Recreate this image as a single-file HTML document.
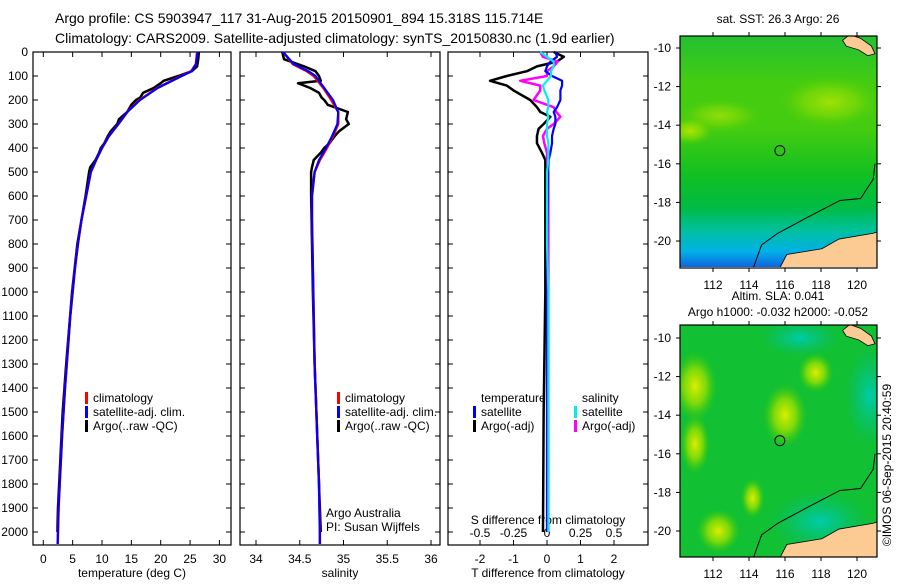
<!DOCTYPE html>
<html><head><meta charset="utf-8"><style>
body{margin:0;background:#fff;width:900px;height:580px;overflow:hidden}
svg{font-family:"Liberation Sans",sans-serif;}
</style></head><body>
<svg id="c" width="900" height="580" viewBox="0 0 900 580">
<defs>
<linearGradient id="sstg" x1="0" y1="0" x2="0" y2="1">
<stop offset="0" stop-color="#22c033"/><stop offset="0.2" stop-color="#44cc11"/><stop offset="0.4" stop-color="#44cc11"/><stop offset="0.6" stop-color="#11c022"/><stop offset="0.74" stop-color="#00bb44"/><stop offset="0.84" stop-color="#00c0a0"/><stop offset="0.93" stop-color="#00b0e8"/><stop offset="1" stop-color="#1060e0"/>
</linearGradient>
<radialGradient id="yb"><stop offset="0" stop-color="#ddee00"/><stop offset="0.5" stop-color="#99e000" stop-opacity="0.8"/><stop offset="1" stop-color="#44cc00" stop-opacity="0"/></radialGradient>
<radialGradient id="cb"><stop offset="0" stop-color="#00ccaa"/><stop offset="1" stop-color="#00c080" stop-opacity="0"/></radialGradient>
<clipPath id="m1c"><rect x="680" y="36" width="197" height="231"/></clipPath>
<clipPath id="m2c"><rect x="680" y="325" width="197" height="232"/></clipPath>
</defs>
<text x="55" y="23" font-size="14">Argo profile: CS 5903947_117 31-Aug-2015 20150901_894 15.318S 115.714E</text>
<text x="55" y="43" font-size="14">Climatology: CARS2009. Satellite-adjusted climatology: synTS_20150830.nc (1.9d earlier)</text>
<g id="g"></g>
<text x="888" y="465" font-size="12" transform="rotate(-90 888 465)" text-anchor="middle" dominant-baseline="middle">©IMOS 06-Sep-2015 20:40:59</text>
</svg>
<script>
const depths=[0,50,80,100,150,200,250,300,350,400,450,500,600,700,800,900,1000,1100,1200,1300,1400,1500,1600,1700,1800,1900,2000,2050];
const tempClim=[26.2,26.0,25.2,23.5,19.4,16.4,14.3,12.8,11.2,10.0,9.0,8.1,7.3,6.5,5.9,5.4,5.0,4.6,4.3,4.0,3.7,3.45,3.2,3.0,2.8,2.6,2.5,2.45];
const tempSat=[26.3,26.0,25.3,23.6,19.5,16.5,14.3,12.8,11.2,10.0,9.0,8.1,7.3,6.5,5.9,5.4,5.0,4.6,4.3,4.0,3.7,3.45,3.2,3.0,2.8,2.6,2.5,2.45];
const argoDepths=[0,30,60,80,100,120,130,150,170,190,200,220,250,280,300,330,350,380,400,420,450,480,500,600,800,1000,1300,1500,1600,1700,1800,1900,2000];
const tempArgo=[26.5,26.4,26.2,25.3,23.0,20.5,20.0,18.8,17.0,16.5,15.8,15.0,14.3,12.9,12.6,11.5,11.0,10.4,9.8,9.5,8.9,8.0,7.8,7.2,5.8,4.9,3.9,3.3,3.1,2.9,2.7,2.5,2.4];
const salArgo=[34.3,34.32,34.55,34.68,34.72,34.74,34.48,34.62,34.72,34.75,34.78,34.82,35.05,35.03,35.06,34.95,34.9,34.84,34.78,34.74,34.66,34.64,34.63,34.63,34.64,34.65,34.67,34.69,34.7,34.71,34.72,34.73,34.74];
const salClim=[34.31,34.42,34.58,34.66,34.77,34.86,34.94,34.94,34.88,34.81,34.73,34.67,34.64,34.64,34.645,34.65,34.655,34.66,34.665,34.67,34.68,34.69,34.7,34.71,34.72,34.725,34.73,34.73];
const salSat=[34.31,34.43,34.6,34.68,34.78,34.88,34.94,34.93,34.87,34.8,34.72,34.67,34.64,34.64,34.645,34.65,34.655,34.66,34.665,34.67,34.68,34.69,34.7,34.71,34.72,34.725,34.73,34.73];
const diffDepths=[0,20,40,60,80,100,120,140,160,200,230,250,270,300,320,350,380,420,450,500,600,800,1000,1500,2000];
const dTsat=[0.25,0.3,0.1,0.0,-0.05,0.15,0.45,0.45,0.4,0.4,0.3,0.2,0.25,0.25,0.2,0.15,0.15,0.1,0.05,0.03,0.02,0.0,0.0,0.0,0.0];
const dTargo=[0.2,0.5,0.3,-0.3,-0.6,-1.2,-1.7,-1.2,-1.0,-0.5,-0.3,-0.2,0.1,-0.1,-0.25,-0.3,-0.3,-0.15,-0.05,-0.05,-0.05,-0.05,-0.05,-0.1,-0.12];
const dSsat=[-0.05,0.0,0.05,0.05,0.03,0.03,0.0,-0.03,-0.02,0.01,0.01,0.0,0.01,0.0,0.0,0.0,0.01,0.01,0.01,0.0,0.0,0.0,0.01,0.01,0.01];
const dSargo=[-0.05,-0.03,0.08,0.05,0.0,0.0,-0.2,-0.05,-0.05,-0.1,0.05,0.07,0.1,0.05,0.0,-0.03,-0.02,0.0,0.0,0.01,0.01,0.01,0.01,0.01,0.01];
const depthTicks=[0,100,200,300,400,500,600,700,800,900,1000,1100,1200,1300,1400,1500,1600,1700,1800,1900,2000];
const tempTicks=[0,5,10,15,20,25,30];
const salTicks=[34,34.5,35,35.5,36];
const dTTicks=[-2,-1,0,1,2];
const dSTickLabels=["-0.5","-0.25","0","0.25","0.5"];
const dSTicks=[-0.5,-0.25,0,0.25,0.5];
const lonTicks=[112,114,116,118,120];
const latTicks=[-10,-12,-14,-16,-18,-20];

const NS="http://www.w3.org/2000/svg";
const G=document.getElementById('g');
function el(t,a,p){const e=document.createElementNS(NS,t);for(const k in a)e.setAttribute(k,a[k]);(p||G).appendChild(e);return e;}
function txt(x,y,s,sz,anc){const e=el('text',{x:x,y:y,'font-size':sz||12,'text-anchor':anc||'start'});e.textContent=s;return e;}
const yD=d=>52+d*0.24;
const xT=v=>43.3+v*5.87;
const xS=v=>256+(v-34)*87.5;
const xDT=v=>547+v*33.5;
const xDS=v=>547+v*134;

function panel(x0,x1,name){const r=el('rect',{x:x0,y:52,width:x1-x0,height:493,fill:'none',stroke:'#000','stroke-width':1.2});

}
panel(33,231,'temperature-panel');panel(240,440,'salinity-panel');panel(448,648,'difference-panel');
depthTicks.forEach(d=>{const y=yD(d);
 [[33,1],[231,-1],[240,1],[440,-1],[448,1],[648,-1]].forEach(([x,s])=>el('line',{x1:x,x2:x+5*s,y1:y,y2:y,stroke:'#000'}));
 const t=txt(28,y+4,String(d),12,'end');
 
 });
function xticks(ticks,f,labels){ticks.forEach((v,i)=>{const x=f(v);el('line',{x1:x,x2:x,y1:545,y2:540,stroke:'#000'});el('line',{x1:x,x2:x,y1:52,y2:57,stroke:'#000'});
 const t=txt(x,563,labels?labels[i]:String(v),12,'middle');
 
 });}
xticks(tempTicks,xT);xticks(salTicks,xS);xticks(dTTicks,xDT);
dSTicks.forEach((v,i)=>{const t=txt(xDS(v),537,dSTickLabels[i],12,'middle');
 
 });
let t;
t=txt(132,577,'temperature (deg C)',12,'middle');
t=txt(340,577,'salinity',12,'middle');
t=txt(548,577,'T difference from climatology',12,'middle');
t=txt(548,524,'S difference from climatology',12,'middle');
t=txt(326,517,'Argo Australia',12);
t=txt(326,531,'PI: Susan Wijffels',12);

function line(ds,vs,f,col,w,name){const p=el('polyline',{points:ds.map((d,i)=>f(vs[i])+','+yD(d)).join(' '),fill:'none',stroke:col,'stroke-width':w||2.5,'stroke-linejoin':'round'});
 
 }
line(argoDepths,tempArgo,xT,'#000',2.5,'temp-argo-line');
line(depths,tempClim,xT,'#f00',2.5,'temp-clim-line');
line(depths,tempSat,xT,'#00f',2.2,'temp-sat-line');
line(argoDepths,salArgo,xS,'#000',2.5,'sal-argo-line');
line(depths,salClim,xS,'#f00',2.5,'sal-clim-line');
line(depths,salSat,xS,'#00f',2.2,'sal-sat-line');
line(diffDepths,dTargo,xDT,'#000',2.5,'tdiff-argo-line');
line(diffDepths,dSargo,xDS,'#f0f',2.5,'sdiff-argo-line');
line(diffDepths,dTsat,xDT,'#00f',2.2,'tdiff-sat-line');
line(diffDepths,dSsat,xDS,'#0ee',2.2,'sdiff-sat-line');

function leg(x,y,col,s,name){el('rect',{x:x,y:y-10,width:3,height:12,fill:col});const t=txt(x+8,y,s,12);
 
 }
[[85,'temp'],[337,'sal']].forEach(([x,p])=>{leg(x,402,'#f00','climatology',p+'-legend-clim');leg(x,416,'#00f','satellite-adj. clim.',p+'-legend-sat');leg(x,430,'#000','Argo(..raw -QC)',p+'-legend-argo');});
t=txt(481,402,'temperature',12);
t=txt(582,402,'salinity',12);
leg(473,416,'#00f','satellite','tdiff-legend-sat');leg(473,430,'#000','Argo(-adj)','tdiff-legend-argo');
leg(574,416,'#0ee','satellite','sdiff-legend-sat');leg(574,430,'#f0f','Argo(-adj)','sdiff-legend-argo');

// maps
const lonX=l=>713+(l-112)*18;
function map(top,latY,clip,kind,name){const g=el('g',{'clip-path':'url(#'+clip+')'});
 
 
 if(kind==='sst'){el('rect',{x:680,y:top,width:197,height:232,fill:'url(#sstg)'},g);
  el('ellipse',{cx:830,cy:latY(-12.8),rx:55,ry:28,fill:'url(#yb)',opacity:0.6},g);
  el('ellipse',{cx:720,cy:latY(-13.5),rx:45,ry:18,fill:'url(#yb)',opacity:0.5},g);
  el('ellipse',{cx:690,cy:latY(-14.3),rx:25,ry:15,fill:'url(#yb)',opacity:0.7},g);}
 else{el('rect',{x:680,y:top,width:197,height:232,fill:'#11c033'},g);
  el('ellipse',{cx:800,cy:latY(-10),rx:40,ry:18,fill:'url(#cb)'},g);
  el('ellipse',{cx:870,cy:latY(-13),rx:25,ry:50,fill:'url(#cb)'},g);
  el('ellipse',{cx:820,cy:latY(-19.5),rx:50,ry:30,fill:'url(#cb)'},g);
  [[lonX(111),latY(-12.5),22,35],[lonX(111),latY(-15.5),15,30],[lonX(116),latY(-14),22,32],[lonX(117.7),latY(-11.8),18,20],[lonX(112.3),latY(-20),22,22],[lonX(114.2),latY(-18.3),12,20]].forEach(b=>el('ellipse',{cx:b[0],cy:b[1],rx:b[2],ry:b[3],fill:'url(#yb)'},g));}
 const shelf=[[114.2,-21.5],[114.7,-20.2],[115.6,-19.6],[117.2,-18.8],[119.05,-17.9],[120.2,-17.8],[120.9,-16.8],[121,-16.0]];
 el('polyline',{points:shelf.map(p=>lonX(p[0])+','+latY(p[1])).join(' '),fill:'none',stroke:'#000','stroke-width':1},g);
 const oz=[[115.6,-21.6],[116.1,-20.7],[118.05,-20.4],[119,-19.9],[120.9,-19.6],[121.2,-19.5],[121.2,-21.6]];
 el('polygon',{points:oz.map(p=>lonX(p[0])+','+latY(p[1])).join(' '),fill:'#fccb94',stroke:'#000','stroke-width':0.8},g);
 const tim=[[119.2,-9.6],[119.6,-9.3],[120.2,-9.5],[120.8,-9.9],[121,-10.3],[120.6,-10.4],[120.1,-10.1],[119.4,-9.9]];
 el('polygon',{points:tim.map(p=>lonX(p[0])+','+latY(p[1])).join(' '),fill:'#fccb94',stroke:'#000','stroke-width':0.8},g);
 const c=el('circle',{cx:lonX(115.714),cy:latY(-15.318),r:5,fill:'none',stroke:'#000'});
 
 
 el('rect',{x:680,y:top,width:197,height:232,fill:'none',stroke:'#000','stroke-width':1.2});
 lonTicks.forEach(l=>{const x=lonX(l);el('line',{x1:x,x2:x,y1:top,y2:top-4,stroke:'#000'});el('line',{x1:x,x2:x,y1:top+232,y2:top+236,stroke:'#000'});
  const t=txt(x,top+253,String(l),12,'middle');
  
  });
 latTicks.forEach(l=>{const y=latY(l);el('line',{x1:680,x2:676,y1:y,y2:y,stroke:'#000'});el('line',{x1:877,x2:881,y1:y,y2:y,stroke:'#000'});
  const t=txt(671,y+4,String(l),12,'end');
  
  });}
map(36,l=>48+(-10-l)*19.3,'m1c','sst','sst-map');
map(325,l=>338+(-10-l)*19.3,'m2c','sla','sla-map');
t=txt(778,23,'sat. SST: 26.3 Argo: 26',12,'middle');
t=txt(778,300,'Altim. SLA: 0.041',12,'middle');
t=txt(778,316,'Argo h1000: -0.032 h2000: -0.052',12,'middle');
</script>
</body></html>
